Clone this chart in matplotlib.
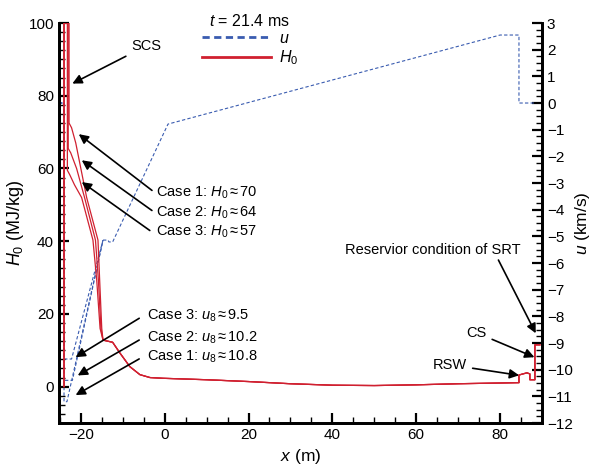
import numpy as np
import matplotlib.pyplot as plt
from matplotlib.lines import Line2D
from matplotlib.ticker import MultipleLocator

plt.rcParams['font.family'] = ['Liberation Sans', 'DejaVu Sans']
plt.rcParams['mathtext.fontset'] = 'custom'
plt.rcParams['mathtext.rm'] = 'Liberation Sans'
plt.rcParams['mathtext.it'] = 'Liberation Sans:italic'

RED = '#d02030'
BLUE = '#3a5cb0'

# H0 (MJ/kg) along x (m): shared start, per-case middle part, shared tail
h_start_x = [-24.0, -24.0, -23.4]
h_start_y = [0.0, 100.0, 100.0]
h_case_x = {
    1: [-22.8, -22.8, -22.2, -21.2, -18.6, -15.9, -15.5, -15.0],
    2: [-23.0, -23.0, -22.4, -21.0, -19.1, -16.5, -15.8, -15.2],
    3: [-23.2, -23.2, -22.6, -21.5, -19.8, -17.1, -16.2, -15.4],
}
h_case_y = {
    1: [100.0, 72.5, 71.2, 67.0, 52.0, 40.3, 29.3, 16.0],
    2: [100.0, 65.5, 64.3, 60.0, 52.0, 40.3, 29.3, 16.0],
    3: [100.0, 59.5, 58.2, 55.5, 52.0, 40.3, 29.3, 16.0],
}
h_tail_x = [-14.7, -12.4, -10.7, -8.3, -5.9, -3.5, -0.4, 10, 20, 30, 40, 50, 60, 70, 80,
            84.5, 84.5, 86.4, 87.1, 87.1, 88.3, 88.3, 89.5]
h_tail_y = [12.8, 12.2, 9.3, 5.5, 3.3, 2.5, 2.3, 1.9, 1.4, 0.8, 0.4, 0.3, 0.5, 0.8, 1.0,
            1.1, 3.2, 3.8, 3.5, 1.9, 1.9, 11.5, 11.5]

# u (km/s) along x (m): per-case left part, then one shared tail
u_case_x = {
    1: [-25.2, -24.0, -24.0, -23.3, -14.7],
    2: [-25.2, -24.0, -24.0, -22.0, -14.7],
    3: [-25.2, -24.0, -24.0, -22.2, -14.7],
}
u_case_y = {
    1: [0.0, 0.0, -11.2, -11.2, -5.14],
    2: [0.0, 0.0, -10.4, -10.4, -5.14],
    3: [0.0, 0.0, -9.6, -9.6, -5.14],
}
u_tail_x = [-14.7, -13.5, -13.3, -12.4, 0.8, 80.0, 84.5, 84.5, 88.5]
u_tail_y = [-5.14, -5.14, -5.21, -5.21, -0.79, 2.55, 2.55, 0.0, 0.0]

fig = plt.figure(figsize=(5.94, 4.67), dpi=100)
ax = fig.add_axes([0.0993, 0.0942, 0.8132, 0.8565])
ax2 = ax.twinx()
ax.set_zorder(ax2.get_zorder() + 1)
ax.patch.set_visible(False)

dash = dict(color=BLUE, lw=0.8, ls=(0, (3, 2)))
for c in (1, 2, 3):
    ax2.plot(u_case_x[c], u_case_y[c], **dash)
    ax.plot(h_start_x + h_case_x[c] + h_tail_x, h_start_y + h_case_y[c] + h_tail_y,
            color=RED, lw=0.9)
ax2.plot(u_tail_x, u_tail_y, **dash)

ax.set_xlim(-25.2, 90)
ax.set_ylim(-10, 100)
ax2.set_ylim(-12, 3)

ax.xaxis.set_major_locator(MultipleLocator(20))
ax.xaxis.set_minor_locator(MultipleLocator(5))
ax.yaxis.set_major_locator(MultipleLocator(20))
ax.yaxis.set_minor_locator(MultipleLocator(2.5))
ax2.yaxis.set_major_locator(MultipleLocator(1))
ax2.yaxis.set_minor_locator(MultipleLocator(0.25))

for a in (ax, ax2):
    a.spines['top'].set_visible(False)
    for s in ('left', 'right', 'bottom'):
        a.spines[s].set_linewidth(2)
    a.tick_params(which='major', direction='in', length=7, width=1.6, labelsize=11)
    a.tick_params(which='minor', direction='in', length=4, width=1.0)
ax.tick_params(axis='y', which='both', right=False)
ax2.tick_params(axis='x', which='both', top=False)

ax.set_xlabel(r'$x$ (m)', fontsize=12.5, labelpad=4)
ax.set_ylabel(r'$H_0$ (MJ/kg)', fontsize=13, labelpad=2)
ax2.set_ylabel(r'$u$ (km/s)', fontsize=12.5, labelpad=0)

handles = [Line2D([], [], color=BLUE, lw=2, ls=(0, (2.6, 1.6))),
           Line2D([], [], color=RED, lw=2)]
leg = ax.legend(handles, [r'$u$', r'$H_0$'], loc='upper left',
                bbox_to_anchor=(0.266, 1.062), frameon=False, fontsize=11.5,
                handlelength=4.3, handletextpad=0.5, labelspacing=0.15,
                title=r'$t$ = 21.4 ms', title_fontsize=11.5)

ap = dict(arrowstyle='-|>', color='black', lw=1.2, mutation_scale=14)
fs = 10.5

ax.annotate('SCS', xy=(-22.6, 83.0), xytext=(-8.0, 93.7), va='center', fontsize=fs,
            arrowprops=ap)
ax.text(-2.0, 53.2, r'Case 1: $H_0\,$≈$\,$70', fontsize=fs, va='center')
ax.text(-2.0, 47.7, r'Case 2: $H_0\,$≈$\,$64', fontsize=fs, va='center')
ax.text(-2.0, 42.7, r'Case 3: $H_0\,$≈$\,$57', fontsize=fs, va='center')
for (tx, ty), (hx, hy) in [((-2.5, 53.5), (-21.0, 69.9)),
                           ((-2.5, 48.0), (-20.3, 62.7)),
                           ((-3.0, 42.5), (-20.3, 56.7))]:
    ax.annotate('', xy=(hx, hy), xytext=(tx, ty), arrowprops=ap)

ax.text(-4.2, 19.5, r'Case 3: $u_8\,$≈$\,$9.5', fontsize=fs, va='center')
ax.text(-4.2, 13.5, r'Case 2: $u_8\,$≈$\,$10.2', fontsize=fs, va='center')
ax.text(-4.2, 8.3, r'Case 1: $u_8\,$≈$\,$10.8', fontsize=fs, va='center')
for (tx, ty), (hx, hy) in [((-5.5, 19.2), (-21.8, 7.7)),
                           ((-5.5, 13.2), (-21.3, 2.7)),
                           ((-5.5, 8.0), (-21.8, -2.7))]:
    ax.annotate('', xy=(hx, hy), xytext=(tx, ty), arrowprops=ap)

ax.text(64.0, 37.5, 'Reservior condition of SRT', fontsize=fs, ha='center', va='center')
ax.annotate('', xy=(88.8, 14.0), xytext=(79.3, 35.5), arrowprops=ap)
ax.annotate('CS', xy=(88.8, 7.8), xytext=(72.0, 14.8), ha='left', va='center',
            fontsize=fs, arrowprops=ap)
ax.annotate('RSW', xy=(85.2, 3.0), xytext=(64.0, 6.0), ha='left', va='center',
            fontsize=fs, arrowprops=ap)

fig.savefig('out.png', dpi=100)
